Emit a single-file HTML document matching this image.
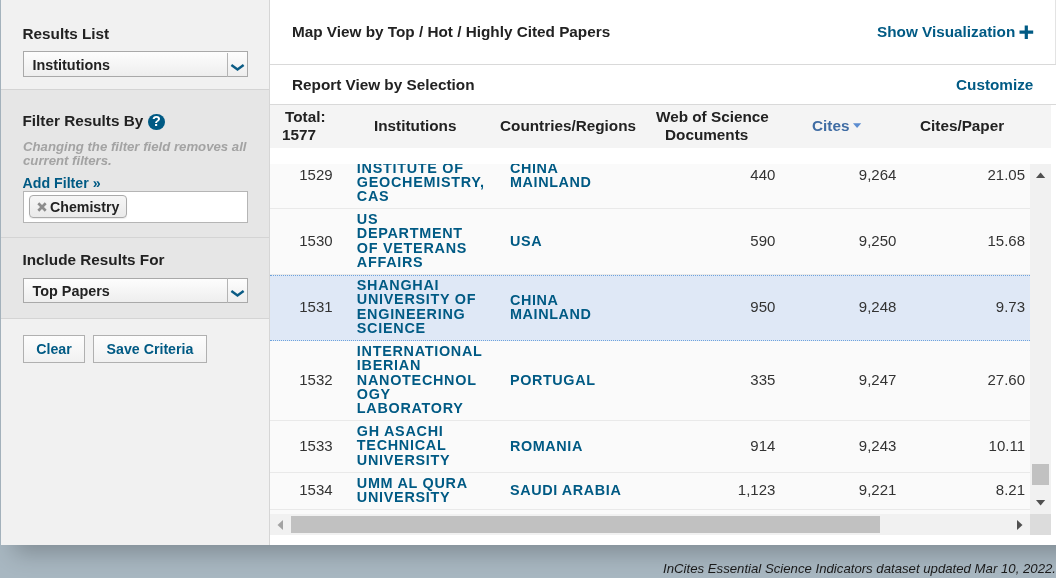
<!DOCTYPE html>
<html lang="en">
<head>
<meta charset="utf-8">
<title>InCites Essential Science Indicators</title>
<style>
html,body{margin:0;padding:0;}
body{width:1056px;height:578px;overflow:hidden;position:relative;
  font-family:"Liberation Sans",Arial,Helvetica,sans-serif;font-size:14.4px;color:#333;
  background:#a8b7c1;}
.abs{position:absolute;}
#bggrad{left:1px;top:0;width:1100px;height:545px;box-shadow:13px 8px 22px rgba(0,0,0,.24);background:#fff;}
#left{left:1px;top:0;width:268px;height:545px;background:#f1f1f1;}
#leftborder{left:269px;top:0;width:1px;height:545px;background:#d6d6d6;}
#right{left:270px;top:0;width:786px;height:545px;background:#fff;}
#filtersec{left:1px;top:89px;width:268px;height:230px;background:#e6e6e6;border-top:1px solid #d4d4d4;border-bottom:1px solid #d4d4d4;box-sizing:border-box;}
#sep2{left:1px;top:237px;width:268px;height:1px;background:#d4d4d4;}
.h{font-weight:bold;font-size:15.3px;color:#222;white-space:nowrap;line-height:18px;}
.sel{box-sizing:border-box;border:1px solid #a9a9a9;background:linear-gradient(to bottom,#fdfdfd 0,#eeeeee 100%);height:26px;width:225px;left:23px;}
.sel .t{position:absolute;left:8.5px;top:1px;line-height:24px;font-weight:bold;font-size:14.4px;color:#222;white-space:nowrap;}
.sel .d{position:absolute;left:203px;top:1px;bottom:-1px;width:1px;background:#b4b4b4;}
.sel svg{position:absolute;left:206px;top:11px;}
.link{color:#005a84;font-weight:bold;}
.btn{box-sizing:border-box;border:1px solid #b0b0b0;background:linear-gradient(to bottom,#fdfdfd 0,#f1f1f1 100%);height:28px;top:335px;text-align:center;line-height:26px;font-weight:bold;font-size:14.2px;color:#005a84;white-space:nowrap;}
.hl{background:#d9d9d9;height:1px;}
.th{font-weight:bold;font-size:15.3px;color:#222;white-space:nowrap;line-height:18px;}
.row{left:270px;width:760px;background:#fafafa;border-bottom:1px solid #e9e9e9;box-sizing:border-box;overflow:hidden;}
.row.sel2{background:#dfe8f6;border-top:1px dotted #6ea3dc;border-bottom:1px dotted #6ea3dc;}
.rk{position:absolute;margin-top:-.5px;left:28.9px;width:34px;text-align:center;line-height:16px;font-size:15px;color:#333;white-space:nowrap;}
.inst{position:absolute;left:86.8px;font-weight:bold;color:#005a84;font-size:14.4px;line-height:14.35px;letter-spacing:.72px;white-space:nowrap;}
.ctry{position:absolute;left:240px;font-weight:bold;color:#005a84;font-size:14.4px;line-height:14.35px;letter-spacing:.6px;white-space:nowrap;}
.n{position:absolute;margin-top:-.5px;text-align:right;line-height:16px;font-size:15px;color:#333;white-space:nowrap;width:80px;}
.n1{left:425.4px;}
.n2{left:546.4px;}
.n3{left:675px;}
</style>
</head>
<body>
<div class="abs" id="bggrad"></div>
<div class="abs" id="left"></div>
<div class="abs" id="filtersec"></div>
<div class="abs" id="sep2"></div>
<div class="abs" id="leftborder"></div>
<div class="abs" id="right"></div>

<!-- LEFT PANEL -->
<div class="abs h" style="left:22.5px;top:25px;">Results List</div>
<div class="abs sel" style="top:51px;"><span class="t">Institutions</span><span class="d"></span>
<svg width="16" height="10" viewBox="0 0 16 10"><path d="M2.4 2.8 L7.5 6.5 L12.6 2.8" fill="none" stroke="#0b5c85" stroke-width="2.5" stroke-linecap="square" stroke-linejoin="miter"/></svg></div>

<div class="abs h" style="left:22.5px;top:111.5px;">Filter Results By</div>
<div class="abs" style="left:148px;top:113.5px;width:17px;height:16.5px;border-radius:50%;background:#005a84;color:#fff;font-weight:bold;font-size:14.4px;line-height:15.5px;text-align:center;">?</div>
<div class="abs" style="left:23px;top:140px;font-style:italic;font-weight:bold;font-size:13.2px;line-height:14.3px;color:#a3a3a3;white-space:nowrap;">Changing the filter field removes all<br>current filters.</div>
<div class="abs link" style="left:22.5px;top:174px;font-size:14.2px;line-height:18px;white-space:nowrap;">Add Filter »</div>
<div class="abs" style="left:23px;top:191px;width:225px;height:32px;box-sizing:border-box;border:1px solid #b5b5b5;background:#fff;"></div>
<div class="abs" style="left:29px;top:195px;width:98px;height:23px;box-sizing:border-box;border:1px solid #aaa;border-radius:4px;background:linear-gradient(to bottom,#f6f6f6 0,#eaeaea 100%);box-shadow:0 1px 1px rgba(0,0,0,.08);">
  <svg class="abs" style="left:6.5px;top:6.2px;" width="10" height="10" viewBox="0 0 10 10"><path d="M1.3 1.3 L8.7 8.7 M8.7 1.3 L1.3 8.7" stroke="#8c8c8c" stroke-width="2.7" fill="none"/></svg>
  <span class="abs" style="left:20px;top:0.5px;line-height:21px;font-weight:bold;font-size:14.2px;color:#222;white-space:nowrap;">Chemistry</span>
</div>

<div class="abs h" style="left:22.5px;top:250.5px;">Include Results For</div>
<div class="abs sel" style="top:278px;height:25px;"><span class="t" style="top:0.3px;">Top Papers</span><span class="d" style="top:-1px;"></span>
<svg style="top:10px;" width="16" height="10" viewBox="0 0 16 10"><path d="M2.4 2.8 L7.5 6.5 L12.6 2.8" fill="none" stroke="#0b5c85" stroke-width="2.5" stroke-linecap="square" stroke-linejoin="miter"/></svg></div>

<div class="abs btn" style="left:23px;width:62px;">Clear</div>
<div class="abs btn" style="left:93px;width:114px;">Save Criteria</div>

<!-- RIGHT PANEL HEADERS -->
<div class="abs h" style="left:292px;top:23px;">Map View by Top / Hot / Highly Cited Papers</div>
<div class="abs h link" style="left:877px;top:23px;color:#005a84;">Show Visualization</div>
<svg class="abs" style="left:1019px;top:25px;" width="15" height="15" viewBox="0 0 15 15"><path d="M7.3 0.5 V14 M0.5 7.2 H14.2" stroke="#005a84" stroke-width="3.2" fill="none"/></svg>
<div class="abs hl" style="left:270px;top:64px;width:786px;"></div>
<div class="abs" style="left:1055px;top:0;width:1px;height:64px;background:#e3e3e3;"></div>
<div class="abs h" style="left:292px;top:76px;">Report View by Selection</div>
<div class="abs h link" style="left:956px;top:76px;color:#005a84;">Customize</div>
<div class="abs hl" style="left:270px;top:104px;width:786px;"></div>
<div class="abs" style="left:270px;top:105px;width:781px;height:43px;background:#f4f4f4;"></div>

<div class="abs th" style="left:285px;top:108px;">Total:</div>
<div class="abs th" style="left:282px;top:126px;">1577</div>
<div class="abs th" style="left:374px;top:117px;">Institutions</div>
<div class="abs th" style="left:500px;top:117px;">Countries/Regions</div>
<div class="abs th" style="left:656px;top:108px;">Web of Science</div>
<div class="abs th" style="left:665px;top:126px;">Documents</div>
<div class="abs th" style="left:812px;top:117px;color:#3f6ca3;">Cites</div>
<svg class="abs" style="left:853px;top:123px;" width="9" height="6" viewBox="0 0 9 6"><path d="M0 0.2 H8.2 L4.1 5 Z" fill="#5b8cd0"/></svg>
<div class="abs th" style="left:920px;top:117px;">Cites/Paper</div>

<!-- TABLE BODY -->
<div class="abs" style="left:270px;top:164px;width:781px;height:371px;background:#fafafa;"></div>

<div class="abs row" style="top:164px;height:45px;">
  <div class="rk" style="top:3px;">1529</div>
  <div class="inst" style="top:-3.5px;">INSTITUTE OF<br>GEOCHEMISTRY,<br>CAS</div>
  <div class="ctry" style="top:-3.5px;">CHINA<br>MAINLAND</div>
  <div class="n n1" style="top:3px;">440</div><div class="n n2" style="top:3px;">9,264</div><div class="n n3" style="top:3px;">21.05</div>
</div>
<div class="abs row" style="top:209px;height:66px;">
  <div class="rk" style="top:24px;">1530</div>
  <div class="inst" style="top:3px;">US<br>DEPARTMENT<br>OF VETERANS<br>AFFAIRS</div>
  <div class="ctry" style="top:25px;">USA</div>
  <div class="n n1" style="top:24px;">590</div><div class="n n2" style="top:24px;">9,250</div><div class="n n3" style="top:24px;">15.68</div>
</div>
<div class="abs row sel2" style="top:275px;height:66px;">
  <div class="rk" style="top:23px;">1531</div>
  <div class="inst" style="top:2px;">SHANGHAI<br>UNIVERSITY OF<br>ENGINEERING<br>SCIENCE</div>
  <div class="ctry" style="top:17px;">CHINA<br>MAINLAND</div>
  <div class="n n1" style="top:23px;">950</div><div class="n n2" style="top:23px;">9,248</div><div class="n n3" style="top:23px;">9.73</div>
</div>
<div class="abs row" style="top:341px;height:80px;">
  <div class="rk" style="top:31px;">1532</div>
  <div class="inst" style="top:3px;">INTERNATIONAL<br>IBERIAN<br>NANOTECHNOL<br>OGY<br>LABORATORY</div>
  <div class="ctry" style="top:32px;">PORTUGAL</div>
  <div class="n n1" style="top:31px;">335</div><div class="n n2" style="top:31px;">9,247</div><div class="n n3" style="top:31px;">27.60</div>
</div>
<div class="abs row" style="top:421px;height:52px;">
  <div class="rk" style="top:17px;">1533</div>
  <div class="inst" style="top:3px;">GH ASACHI<br>TECHNICAL<br>UNIVERSITY</div>
  <div class="ctry" style="top:18px;">ROMANIA</div>
  <div class="n n1" style="top:17px;">914</div><div class="n n2" style="top:17px;">9,243</div><div class="n n3" style="top:17px;">10.11</div>
</div>
<div class="abs row" style="top:473px;height:37px;">
  <div class="rk" style="top:9px;">1534</div>
  <div class="inst" style="top:3px;">UMM AL QURA<br>UNIVERSITY</div>
  <div class="ctry" style="top:10px;">SAUDI ARABIA</div>
  <div class="n n1" style="top:9px;">1,123</div><div class="n n2" style="top:9px;">9,221</div><div class="n n3" style="top:9px;">8.21</div>
</div>

<!-- SCROLLBARS -->
<div class="abs" style="left:1030px;top:164px;width:21px;height:350px;background:#f1f1f1;"></div>
<svg class="abs" style="left:1036px;top:172px;" width="10" height="6" viewBox="0 0 10 6"><path d="M0 6 H9.2 L4.6 0.6 Z" fill="#505050"/></svg>
<div class="abs" style="left:1032px;top:464px;width:17px;height:21px;background:#c1c1c1;"></div>
<svg class="abs" style="left:1036px;top:500px;" width="10" height="6" viewBox="0 0 10 6"><path d="M0 0 H9.2 L4.6 5.4 Z" fill="#505050"/></svg>
<div class="abs" style="left:270px;top:514px;width:760px;height:21px;background:#f1f1f1;"></div>
<div class="abs" style="left:1030px;top:514px;width:21px;height:21px;background:#dcdcdc;"></div>
<svg class="abs" style="left:277px;top:520px;" width="6" height="10" viewBox="0 0 6 10"><path d="M6 0 V10 L0.5 5 Z" fill="#a3a3a3"/></svg>
<div class="abs" style="left:291px;top:516px;width:589px;height:17px;background:#c1c1c1;"></div>
<svg class="abs" style="left:1017px;top:520px;" width="6" height="10" viewBox="0 0 6 10"><path d="M0 0 V10 L5.5 5 Z" fill="#505050"/></svg>

<!-- FOOTER -->
<div class="abs" style="right:0px;top:559.5px;font-style:italic;font-size:13.2px;line-height:18px;color:#1a1a1a;white-space:nowrap;">InCites Essential Science Indicators dataset updated Mar 10, 2022.</div>
</body>
</html>
